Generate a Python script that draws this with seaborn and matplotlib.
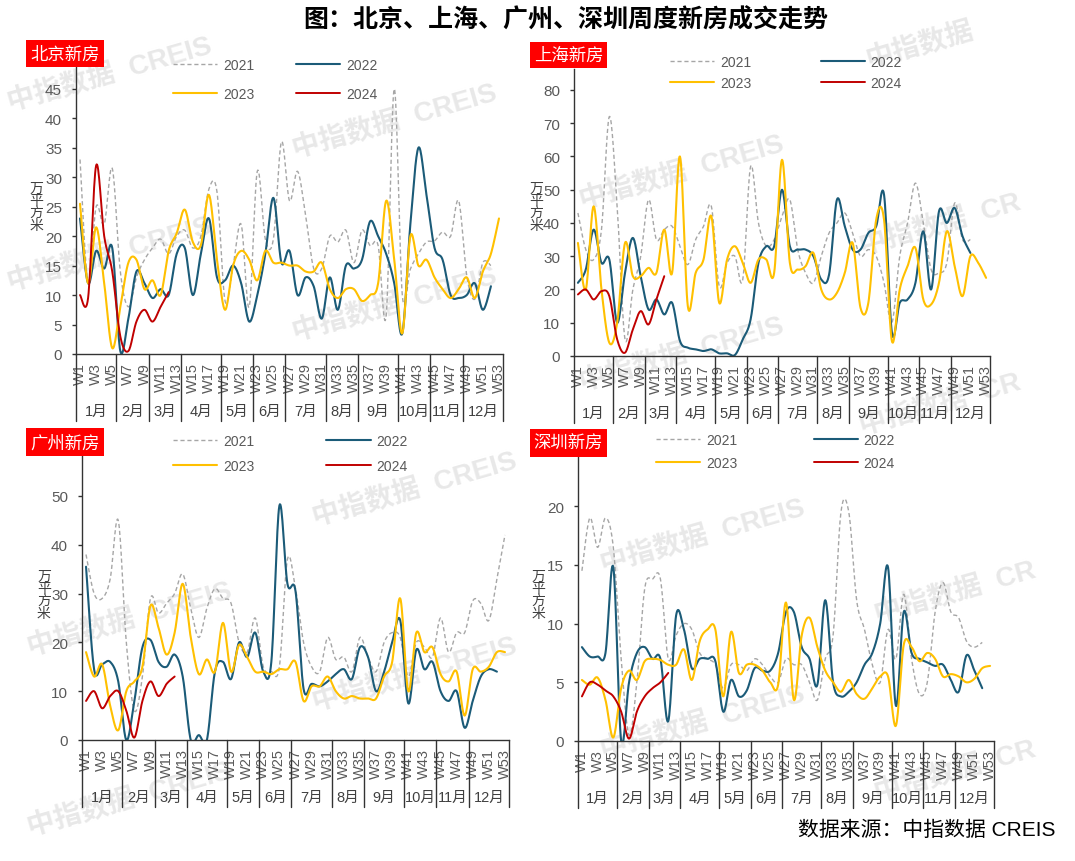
import numpy as np
import pandas as pd
import matplotlib.pyplot as plt
import matplotlib.transforms as mtransforms
from matplotlib.lines import Line2D
from matplotlib.patches import Rectangle
import seaborn as sns

# ---- data (万平方米, weekly) ----
YEARS = ["2021", "2022", "2023", "2024"]
WEEKS = [f"W{i}" for i in range(1, 54)]
MONTHS = ["1月", "2月", "3月", "4月", "5月", "6月", "7月", "8月", "9月", "10月", "11月", "12月"]
MONTH_WEEKS = [5, 4, 4, 5, 4, 4, 5, 4, 5, 4, 4, 5]

BJ_2021 = [33, 12, 25, 22, 31.5, 14, 8, 13, 16, 18, 19.5, 17, 20, 21, 18, 20, 28, 27.5, 9, 15,
           22, 8, 31, 19.5, 19.5, 36, 26, 31, 23.5, 14.5, 14.5, 20, 19, 21, 15.5, 21, 18.4, 18.4, 6.5, 45,
           10, 14.4, 17, 19, 19.2, 20.7, 20, 26, 13.3, 9.3, 15.5, 15]
BJ_2022 = [23, 12, 17.5, 14.5, 18, 0.5, 6, 14, 12, 9.5, 11, 10, 17, 18, 10, 17, 23, 13, 12.5, 15,
           12, 5.5, 10, 17, 26.5, 15.5, 17.5, 10, 13, 11.5, 6, 13, 7.5, 15, 14.5, 16, 22.5, 20, 17, 12,
           3.5, 22, 35, 27, 18, 16, 10, 9.5, 10, 12, 7.5, 11.5]
BJ_2023 = [25.5, 12, 21.5, 12, 1, 8, 15.5, 16, 11, 12.5, 10, 17.5, 20.5, 24.5, 19, 18.5, 27, 16, 7.5, 15,
           17.5, 16, 12.5, 17.5, 15.5, 15.5, 15, 15, 14, 14, 15.5, 11, 9.5, 11, 11, 9, 10, 12, 26, 16,
           3.5, 20, 15, 16, 13, 11, 9.5, 11, 13, 9.5, 14, 17, 23]
BJ_2024 = [10, 9.5, 32, 20, 14, 3, 0.5, 5.5, 7.5, 5.5, 8, 10.5]

SH_2021 = [43, 32, 29, 38, 72, 45, 5, 20, 30, 47, 35, 38, 39, 33, 27.5, 35, 39, 45, 21, 28,
           30, 23, 57, 40, 33, 35, 42, 47, 32, 25, 22, 30, 37, 40, 43, 37, 30, 32, 30, 22,
           10, 30, 40, 52, 40, 26, 25, 28, 46, 35, 35]
SH_2022 = [22, 26, 38, 28, 29, 10, 25, 35.5, 24, 14, 17, 12.5, 16, 4.5, 2.5, 2, 1.5, 2, 0.8, 0.8,
           0.3, 5, 11, 28, 33, 33, 50, 33, 32, 32, 30, 23, 24.5, 47, 39, 32, 32, 37, 39, 48.5,
           7, 16, 17, 22, 37.5, 20, 43.5, 40, 44.5, 36, 31]
SH_2023 = [34, 20, 45, 20, 4, 10, 34, 24, 24, 26.5, 25, 38, 25, 60, 15, 25, 29, 42, 16, 29,
           33, 28, 22, 29, 29, 25, 59, 28, 26, 27, 31, 20, 17, 19, 25, 34, 14.5, 16, 41, 41,
           4.5, 20, 27, 32.5, 17, 15.5, 22, 37.5, 27, 18, 30, 28, 23.5]
SH_2024 = [18.5, 20, 17, 19.5, 18, 5, 1, 8, 13.5, 9.5, 17, 24]

GZ_2021 = [38, 30, 29, 33, 45, 20, 6, 13, 29, 26, 28, 30, 34, 27, 21, 27, 31, 29, 28, 20,
           18, 25, 15, 14, 15, 37, 31, 20, 15, 14, 21, 16.5, 17, 14, 21, 17, 14, 20, 22, 21,
           13, 20, 19, 17, 25, 18, 22, 22, 28.5, 28, 24.5, 33, 42]
GZ_2022 = [35.5, 14.5, 15.5, 16, 12, 0, 8, 19, 20.5, 16, 15, 17.5, 13, 0, 1, 0, 14, 16, 12.5, 20,
           17, 22, 14, 16, 48, 32, 30.5, 10.5, 11.5, 11, 12, 13.5, 14.5, 12.5, 19, 17, 10, 14, 20, 24.5,
           7.5, 18.5, 14.5, 16, 10, 8, 10, 2.5, 8, 13, 14.5, 14]
GZ_2023 = [18, 13, 15.5, 7, 2, 10, 12, 15, 27.5, 23, 17.5, 22, 32, 21, 13.5, 16.5, 14, 24, 14, 19.5,
           17, 14, 14, 13.5, 14.5, 14.5, 16, 8, 11, 11, 13, 10, 8.5, 9, 8.5, 8.5, 8.5, 13, 16, 29,
           10, 22, 18, 19, 13.5, 12, 14, 5, 14.5, 14, 15, 18, 18]
GZ_2024 = [8, 10, 6.5, 9, 10, 6, 0.5, 8, 12, 9, 11.5, 13]

SZ_2021 = [14.5, 19, 16.5, 19, 16.5, 7, 0.5, 5, 13, 13.8, 13.8, 7, 9, 10, 9.5, 7.5, 7, 6.5, 4.5, 6.5,
           6.5, 6, 7, 6.5, 5.5, 5, 7, 6.5, 6.5, 5, 3.5, 7, 9, 19.5, 19.5, 12, 9.5, 6.5, 5, 9.5,
           7, 12.5, 7, 4, 5, 11, 13.5, 11, 10.5, 8.5, 8, 8.4]
SZ_2022 = [8, 7.2, 7.2, 7.5, 14.8, 0, 5, 7.5, 8, 7, 7, 1.7, 10.7, 9.5, 6.2, 7, 7, 6.8, 2.5, 5.2,
           3.8, 4.3, 6.2, 6, 6, 7.5, 11, 11, 8, 7, 4.8, 12, 5, 3.8, 4.2, 5, 6.5, 7.5, 10, 14.8,
           3, 11, 7.5, 7, 6.7, 6.4, 6.5, 5.2, 4.2, 7.3, 6, 4.5]
SZ_2023 = [5.2, 4.8, 5.4, 3.5, 0.3, 4.5, 6, 5.2, 6.8, 7, 6.9, 6.5, 6.5, 7.8, 5.2, 8.5, 9.5, 9.5, 3.8, 9.3,
           5.8, 6.5, 6.5, 6, 5, 4.8, 11.8, 3.5, 9, 10.5, 8, 6, 5, 4.2, 5.2, 4, 3.6, 4.5, 5.5, 5.5,
           1.3, 8.2, 8, 6.8, 7.5, 7, 5.5, 5.7, 5.5, 5, 5.3, 6.2, 6.4]
SZ_2024 = [3.8, 5, 4.8, 4.3, 3.8, 2.5, 0.2, 2.5, 3.8, 4.5, 5, 5.8]

BJ_YTICKS = [0, 5, 10, 15, 20, 25, 30, 35, 40, 45]
SH_YTICKS = [0, 10, 20, 30, 40, 50, 60, 70, 80]
GZ_YTICKS = [0, 10, 20, 30, 40, 50]
SZ_YTICKS = [0, 5, 10, 15, 20]

# ---- style ----
sns.set_theme(style="white")
plt.rcParams["font.family"] = ["Liberation Sans", "Noto Sans CJK SC"]

COLORS = {"2021": "#A6A6A6", "2022": "#1B5B78", "2023": "#FFC000", "2024": "#C00000"}
WIDTHS = {"2021": 1.0, "2022": 1.5, "2023": 1.5, "2024": 1.4}
STYLES = {"2021": (0, (3, 2)), "2022": "-", "2023": "-", "2024": "-"}
AXIS_C = "#333333"
TEXT_C = "#595959"

W, H = 1075, 862


def fx(x):
    return x / W


def fy(y):
    return 1 - y / H


def smooth(vals, n=16):
    # Excel-style smoothed line (cubic bezier through the points)
    p = np.column_stack([np.arange(1, len(vals) + 1, dtype=float), np.asarray(vals, float)])
    q = np.vstack([p[0], p, p[-1]])
    t = np.linspace(0, 1, n, endpoint=False)[:, None]
    segs = []
    for i in range(1, len(q) - 2):
        p0, p1, p2, p3 = q[i - 1], q[i], q[i + 1], q[i + 2]
        c1 = p1 + (p2 - p0) / 6
        c2 = p2 - (p3 - p1) / 6
        segs.append((1 - t) ** 3 * p1 + 3 * (1 - t) ** 2 * t * c1 + 3 * (1 - t) * t ** 2 * c2 + t ** 3 * p2)
    segs.append(p[-1:])
    return pd.DataFrame(np.vstack(segs), columns=["week", "value"])


# panel layout in pixels: plot box (left, top, right, bottom), tag box, y-label pos, legend
panels = [
    dict(tag="北京新房", series=[BJ_2021, BJ_2022, BJ_2023, BJ_2024], yticks=BJ_YTICKS,
         box=(76, 68, 503, 355), ymax=48.7, tagbox=(26, 41, 104, 68), ylab=(36, 207),
         leg=(173, 59, 1.05, 3.0)),
    dict(tag="上海新房", series=[SH_2021, SH_2022, SH_2023, SH_2024], yticks=SH_YTICKS,
         box=(574, 70, 990, 357), ymax=86.3, tagbox=(530, 43, 607, 69), ylab=(536, 207),
         leg=(670, 56, 0.5, 5.0)),
    dict(tag="广州新房", series=[GZ_2021, GZ_2022, GZ_2023, GZ_2024], yticks=GZ_YTICKS,
         box=(82, 452, 509, 741), ymax=59.2, tagbox=(26, 429, 104, 457), ylab=(44, 595),
         leg=(173, 435, 0.8, 5.2)),
    dict(tag="深圳新房", series=[SZ_2021, SZ_2022, SZ_2023, SZ_2024], yticks=SZ_YTICKS,
         box=(578, 458, 994, 742), ymax=24.2, tagbox=(530, 430, 607, 458), ylab=(538, 595),
         leg=(656, 434, 0.65, 5.5)),
]

fig = plt.figure(figsize=(W / 100, H / 100), dpi=100, facecolor="white")

# faint watermark text
WM = [(110, 75, "中指数据  CREIS"), (395, 122, "中指数据  CREIS"), (110, 255, "中指数据  CREIS"),
      (395, 305, "中指数据  CREIS"), (920, 45, "中指数据"), (682, 173, "中指数据  CREIS"),
      (940, 225, "中指数据  CR"), (682, 355, "中指数据  CREIS"), (940, 405, "中指数据  CR"),
      (415, 490, "中指数据  CREIS"), (130, 620, "中指数据  CREIS"), (415, 675, "中指数据  CREIS"),
      (130, 800, "中指数据  CREIS"), (703, 537, "中指数据  CREIS"), (955, 593, "中指数据  CR"),
      (703, 723, "中指数据  CREIS"), (955, 772, "中指数据  CR")]
for x, y, s in WM:
    fig.text(fx(x), fy(y), s, rotation=16, ha="center", va="center", fontsize=20,
             fontweight="bold", color="#d2d2d2", alpha=0.5, zorder=-5)

month_edges = 0.5 + np.concatenate([[0], np.cumsum(MONTH_WEEKS)])
month_centers = (month_edges[:-1] + month_edges[1:]) / 2

for p in panels:
    l, t, r, b = p["box"]
    ax = fig.add_axes([fx(l), fy(b), (r - l) / W, (b - t) / H])
    ax.set_facecolor("none")
    ax_h = b - t

    for year, vals in zip(YEARS, p["series"]):
        sns.lineplot(data=smooth(vals), x="week", y="value", sort=False, estimator=None,
                     color=COLORS[year], linewidth=WIDTHS[year], linestyle=STYLES[year],
                     ax=ax, legend=False)

    ax.set_xlim(0.5, 53.5)
    ax.set_ylim(0, p["ymax"])
    ax.set_xlabel("")
    ax.set_ylabel("")
    ax.set_xticks(range(1, 54, 2))
    ax.set_xticklabels(WEEKS[::2], rotation=90, fontsize=10.5, color=TEXT_C)
    ax.tick_params(axis="x", bottom=False, length=0, pad=6)
    ax.set_yticks(p["yticks"])
    ax.set_yticklabels([str(v) for v in p["yticks"]], fontsize=11, color=TEXT_C)
    ax.tick_params(axis="y", left=True, length=3, width=1, color=AXIS_C, direction="out", pad=7)
    for side in ["top", "right"]:
        ax.spines[side].set_visible(False)
    for side in ["left", "bottom"]:
        ax.spines[side].set_color(AXIS_C)
        ax.spines[side].set_linewidth(1.0)

    # month row under the week labels
    trans = mtransforms.blended_transform_factory(ax.transData, ax.transAxes)
    for e in month_edges:
        ax.plot([e, e], [0, -67 / ax_h], transform=trans, color=AXIS_C, lw=1.0, clip_on=False)
    for c, m in zip(month_centers, MONTHS):
        ax.text(c, -57 / ax_h, m, transform=trans, ha="center", va="center",
                fontsize=10.5, color="#404040")

    # legend, laid out row-wise: 2021 2022 / 2023 2024
    handles = {y: Line2D([], [], color=COLORS[y], lw=WIDTHS[y], linestyle=STYLES[y]) for y in YEARS}
    order = ["2021", "2023", "2022", "2024"]
    lx, ly, lsp, csp = p["leg"]
    ax.legend([handles[y] for y in order], order, ncol=2, loc="upper left",
              bbox_to_anchor=(fx(lx), fy(ly)), bbox_transform=fig.transFigure,
              frameon=False, fontsize=10, labelcolor=TEXT_C, handlelength=3.2,
              handletextpad=0.4, columnspacing=csp, labelspacing=lsp,
              borderpad=0, borderaxespad=0)

    # red tag
    x0, y0, x1, y1 = p["tagbox"]
    fig.patches.append(Rectangle((fx(x0), fy(y1)), (x1 - x0) / W, (y1 - y0) / H,
                                 transform=fig.transFigure, facecolor="#FF0000",
                                 edgecolor="none", zorder=5))
    fig.text(fx((x0 + x1) / 2), fy((y0 + y1) / 2), p["tag"], ha="center", va="center",
             fontsize=12.5, color="white", zorder=6)

    # vertical unit label
    fig.text(fx(p["ylab"][0]), fy(p["ylab"][1]), "万\n平\n方\n米", ha="center", va="center",
             fontsize=10, linespacing=0.85, color="#404040")

fig.text(fx(566), fy(20), "图：北京、上海、广州、深圳周度新房成交走势", ha="center", va="center",
         fontsize=18, fontweight="bold", color="black")
fig.text(fx(1056), fy(830), "数据来源：中指数据 CREIS", ha="right", va="center",
         fontsize=15, color="black")

fig.savefig("out.png", dpi=100, facecolor="white")
